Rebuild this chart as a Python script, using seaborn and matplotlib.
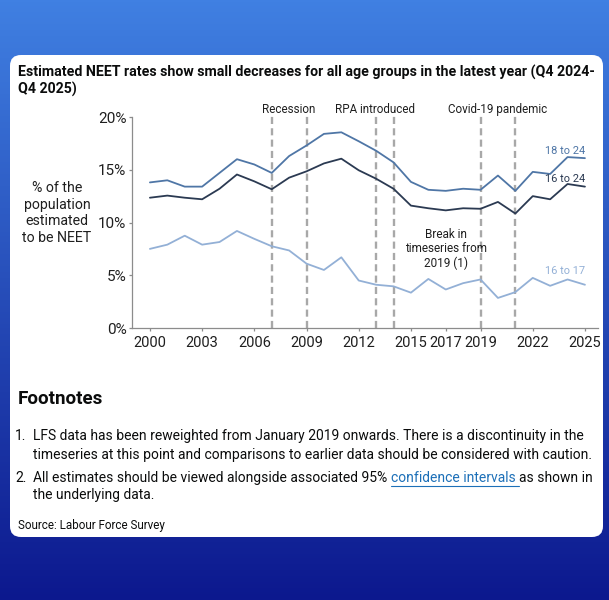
import numpy as np
import pandas as pd
import matplotlib
matplotlib.use("Agg")
import matplotlib.pyplot as plt
import seaborn as sns
from matplotlib.patches import FancyBboxPatch
from matplotlib.lines import Line2D

# ---------------- data ----------------
years = list(range(2000, 2026))
rate_18_24 = [13.8, 14.0, 13.4, 13.4, 14.7, 16.0, 15.5, 14.7, 16.3, 17.3, 18.4, 18.55, 17.7,
              16.8, 15.7, 13.85, 13.1, 13.0, 13.2, 13.1, 14.45, 13.0, 14.8, 14.6, 16.2, 16.1]
rate_16_24 = [12.35, 12.55, 12.35, 12.2, 13.2, 14.55, 13.9, 13.15, 14.25, 14.85, 15.6, 16.05, 14.95,
              14.15, 13.2, 11.6, 11.35, 11.15, 11.35, 11.3, 11.95, 10.85, 12.5, 12.2, 13.65, 13.4]
rate_16_17 = [7.5, 7.9, 8.75, 7.9, 8.15, 9.2, 8.45, 7.75, 7.35, 6.1, 5.5, 6.7, 4.5,
              4.1, 3.95, 3.35, 4.65, 3.65, 4.25, 4.6, 2.85, 3.4, 4.75, 4.0, 4.6, 4.1]
series_names = ["18 to 24", "16 to 24", "16 to 17"]
xtick_years = [2000, 2003, 2006, 2009, 2012, 2015, 2017, 2019, 2022, 2025]
ytick_vals = [0, 5, 10, 15, 20]
ytick_labels = ["0%", "5%", "10%", "15%", "20%"]
event_years = [2007, 2009, 2013, 2014, 2019, 2021]
event_labels = ["Recession", "RPA introduced", "Covid-19 pandemic"]
event_label_x = [2008, 2012.96, 2020]

title = ("Estimated NEET rates show small decreases for all age groups in the latest year (Q4 2024-\n"
         "Q4 2025)")
ylabel = "% of the\npopulation\nestimated\nto be NEET"
break_note = "Break in\ntimeseries from\n2019 (1)"
fn1a = "LFS data has been reweighted from January 2019 onwards. There is a discontinuity in the"
fn1b = "timeseries at this point and comparisons to earlier data should be considered with caution."
fn2a = "All estimates should be viewed alongside associated 95% "
fn2link = "confidence intervals "
fn2c = "as shown in"
fn2b = "the underlying data."
source = "Source: Labour Force Survey"

df = pd.DataFrame({
    "year": years * 3,
    "rate": rate_18_24 + rate_16_24 + rate_16_17,
    "group": [series_names[0]] * len(years) + [series_names[1]] * len(years) + [series_names[2]] * len(years),
})

# ---------------- style ----------------
sns.set_theme(style="ticks")
FONT = "Roboto"
plt.rcParams["font.family"] = [FONT, "DejaVu Sans"]
TEXT = "#0b0c0c"
palette = {"18 to 24": "#4f76a6", "16 to 24": "#2b3a52", "16 to 17": "#93b0d6"}

W, H = 609, 600
fig = plt.figure(figsize=(W / 100, H / 100), dpi=100)

def fx(px):
    return px / W

def fy(py):
    return 1 - py / H

# background gradient
bg = fig.add_axes([0, 0, 1, 1], zorder=-10)
top = np.array([64, 128, 226]) / 255
bot = np.array([12, 24, 142]) / 255
t = np.linspace(0, 1, 300)[:, None, None]
grad = top * (1 - t) + bot * t
grad = np.repeat(grad, 2, axis=1)
bg.imshow(grad, aspect="auto", extent=[0, 1, 0, 1], origin="upper")
bg.set_xlim(0, 1)
bg.set_ylim(0, 1)
bg.axis("off")
card = FancyBboxPatch((fx(10), fy(537)), fx(603) - fx(10), fy(55) - fy(537),
                      boxstyle="round,pad=0,rounding_size=0.018",
                      transform=bg.transAxes, facecolor="white", edgecolor="none")
bg.add_patch(card)

# ---------------- chart ----------------
x0, x1 = 1998.97, 2025.75
ax = fig.add_axes([fx(132), fy(328), fx(598) - fx(132), fy(117) - fy(328)])
ax.set_facecolor("none")
sns.lineplot(data=df, x="year", y="rate", hue="group", palette=palette, ax=ax,
             linewidth=1.3, legend=False, sort=True)
ax.set_xlim(x0, x1)
ax.set_ylim(0, 20)
ax.set_xticks(xtick_years)
ax.set_xticklabels([str(y) for y in xtick_years])
ax.set_yticks(ytick_vals)
ax.set_yticklabels(ytick_labels)
ax.set_xlabel("")
ax.set_ylabel("")
for s in ["top", "right"]:
    ax.spines[s].set_visible(False)
for s in ["left", "bottom"]:
    ax.spines[s].set_color("#8c8c8c")
    ax.spines[s].set_linewidth(0.9)
ax.tick_params(axis="both", colors="#8c8c8c", length=2.5, width=0.9,
               labelcolor="#1f1f1f")
ax.tick_params(axis="x", pad=3.5, labelsize=10.5)
ax.tick_params(axis="y", pad=1.5, labelsize=11)

for ey in event_years:
    ax.plot([ey, ey], [0, 20.4], color="#a8a8a8", lw=1.7, ls=(0, (3, 1.8)), clip_on=False, zorder=1)
for lab, lx in zip(event_labels, event_label_x):
    ax.text(lx, 20.72, lab, ha="center", va="center", fontsize=8.4, color="#1f1f1f")

ax.text(2017.0, 7.5, break_note, ha="center", va="center", fontsize=8.5, color="#1f1f1f",
        linespacing=1.1)
ax.text(2025, 16.8, series_names[0], ha="right", va="center", fontsize=7.9, color=palette["18 to 24"])
ax.text(2025, 14.1, series_names[1], ha="right", va="center", fontsize=7.9, color=palette["16 to 24"])
ax.text(2025, 5.37, series_names[2], ha="right", va="center", fontsize=7.9, color=palette["16 to 17"])

fig.text(fx(57), fy(213), ylabel, ha="center", va="center", fontsize=10.2, color="#1f1f1f",
         linespacing=1.25)

# ---------------- text blocks ----------------
fig.canvas.draw()
r = fig.canvas.get_renderer()

def fit(tx, width_px):
    w = tx.get_window_extent(r).width
    tx.set_fontsize(tx.get_fontsize() * width_px / w)
    return tx.get_fontsize()

t1 = fig.text(fx(18), fy(81), title, ha="left", va="center", fontsize=10.5, fontweight="bold",
              color=TEXT, linespacing=1.2)
tmp = fig.text(0, 0, title.split("\n")[0], fontsize=10.5, fontweight="bold")
fs_title = fit(tmp, 579)
tmp.remove()
t1.set_fontsize(fs_title)

fh = fig.text(fx(18), fy(399), "Footnotes", ha="left", va="center", fontsize=13,
              fontweight="bold", color=TEXT)
fit(fh, 85)

tmp = fig.text(0, 0, fn1b, fontsize=10)
fs_fn = fit(tmp, 557)
tmp.remove()

fig.text(fx(15), fy(436), "1.", ha="left", va="center", fontsize=fs_fn, color=TEXT)
fig.text(fx(33), fy(436), fn1a, ha="left", va="center", fontsize=fs_fn, color=TEXT)
fig.text(fx(33), fy(455), fn1b, ha="left", va="center", fontsize=fs_fn, color=TEXT)
fig.text(fx(15), fy(478), "2.", ha="left", va="center", fontsize=fs_fn, color=TEXT)
pa = fig.text(fx(33), fy(478), fn2a, ha="left", va="center", fontsize=fs_fn, color=TEXT)
wa = pa.get_window_extent(r).width
pl = fig.text(fx(33 + wa), fy(478), fn2link, ha="left", va="center", fontsize=fs_fn, color="#1d70b8")
wl = pl.get_window_extent(r).width
pc = fig.text(fx(33 + wa + wl), fy(478), fn2c, ha="left", va="center", fontsize=fs_fn, color=TEXT)
fig.add_artist(Line2D([fx(33 + wa), fx(33 + wa + wl)], [fy(485.5), fy(485.5)],
                      color="#1d70b8", lw=0.8, transform=fig.transFigure))
fig.text(fx(33), fy(495), fn2b, ha="left", va="center", fontsize=fs_fn, color=TEXT)

src = fig.text(fx(18), fy(526), source, ha="left", va="center", fontsize=8, color=TEXT)
fit(src, 148)

fig.savefig("out.png", dpi=100)
